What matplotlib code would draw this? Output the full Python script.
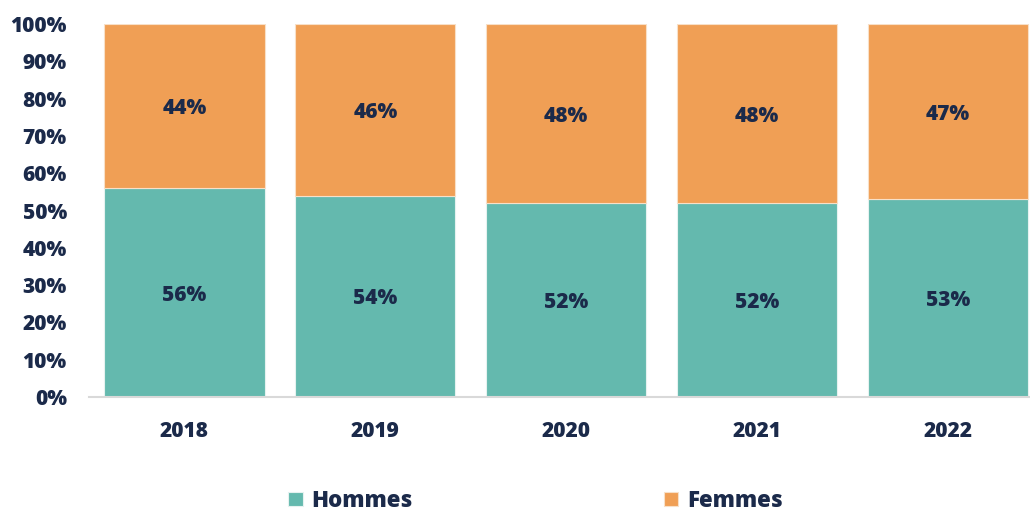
import numpy as np
import matplotlib.pyplot as plt

#-----------------------------------------------------------
years=['2018', '2019', '2020', '2021', '2022']
hommes=[56, 54, 52, 52, 53]
femmes=[44, 46, 48, 48, 47]

c_h='#64B9AE'
c_f='#F09F55'
c_txt='#1B2A4A'

plt.rcParams['font.family']=['Open Sans', 'DejaVu Sans']
plt.rcParams['font.weight']='heavy'

#----------------------------------------------------------
fig=plt.figure(figsize=(10.30, 5.11), dpi=100)
ax=fig.add_axes([0.0864, 0.2231, 0.9136, 0.7299])

x=np.arange(len(years))
w=0.84
b1=ax.bar(x, hommes, w, color=c_h, edgecolor='#E6F2F0', linewidth=0.8, label='Hommes')
b2=ax.bar(x, femmes, w, bottom=hommes, color=c_f, edgecolor='#F8E0C8', linewidth=0.8, label='Femmes')

for i in range(len(years)):
	ax.text(x[i], hommes[i]/2, f'{hommes[i]}%', ha='center', va='center_baseline', fontsize=15, color=c_txt, weight='heavy')
	ax.text(x[i], hommes[i]+femmes[i]/2, f'{femmes[i]}%', ha='center', va='center_baseline', fontsize=15, color=c_txt, weight='heavy')

ax.set_xlim(-0.5, 4.43)
ax.set_ylim(0, 100)
ax.set_yticks(np.arange(0, 101, 10))
ax.set_yticklabels([f'{v}%' for v in range(0, 101, 10)])
ax.set_xticks(x)
ax.set_xticklabels(years)
ax.tick_params(axis='both', length=0, labelsize=15, labelcolor=c_txt)
ax.tick_params(axis='y', pad=16)
ax.tick_params(axis='x', pad=17)
for lab in ax.get_xticklabels()+ax.get_yticklabels():
	lab.set_fontweight('heavy')

for s in ['top', 'right', 'left']:
	ax.spines[s].set_visible(False)
ax.spines['bottom'].set_color('#D9D9D9')
ax.spines['bottom'].set_linewidth(1.5)

fig.legend(handles=[b1, b2], loc='center', bbox_to_anchor=(0.52, 0.02), ncol=2, frameon=False,
	labelcolor=c_txt, handlelength=0.65, handleheight=0.65, handletextpad=0.4, columnspacing=11.3,
	prop={'weight': 'heavy', 'size': 16})

plt.savefig('out.png', dpi=100)
plt.close()
